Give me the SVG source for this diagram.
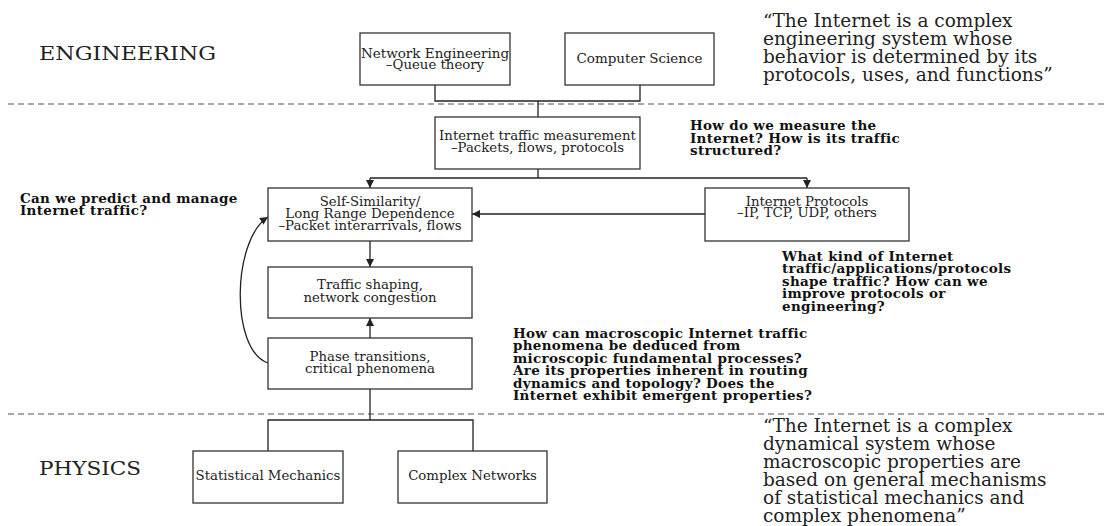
<svg xmlns="http://www.w3.org/2000/svg" width="1108" height="526" viewBox="0 0 1108 526">
<style>
.box{fill:#fff;stroke:#333;stroke-width:1.3}
.t{font-family:"DejaVu Serif","Liberation Serif",serif;font-size:13.3px;fill:#222;text-anchor:middle}
.big{font-family:"DejaVu Serif","Liberation Serif",serif;font-size:19px;fill:#222}
.q{font-family:"DejaVu Serif","Liberation Serif",serif;font-size:18.5px;fill:#222}
.b{font-family:"DejaVu Serif","Liberation Serif",serif;font-size:13.5px;letter-spacing:0.3px;font-weight:bold;fill:#111}
.dash{stroke:#555;stroke-width:1.1;stroke-dasharray:6,4;fill:none}
.ln{stroke:#222;stroke-width:1.3;fill:none}
</style>
<defs>
<marker id="ah" viewBox="0 0 10 10" refX="10" refY="5" markerWidth="8" markerHeight="8" markerUnits="userSpaceOnUse" orient="auto">
<path d="M0,0 L10,5 L0,10 z" fill="#222"/>
</marker>
</defs>
<rect width="1108" height="526" fill="#fff"/>

<line class="dash" x1="8" y1="104" x2="1108" y2="104"/>
<line class="dash" x1="8" y1="414" x2="1108" y2="414"/>

<text class="big" x="39" y="60" textLength="177" lengthAdjust="spacingAndGlyphs">ENGINEERING</text>
<text class="big" x="39" y="475" textLength="102" lengthAdjust="spacingAndGlyphs">PHYSICS</text>

<g id="quote-top">
<text class="q" x="763" y="27">“The Internet is a complex</text>
<text class="q" x="763" y="45">engineering system whose</text>
<text class="q" x="763" y="63">behavior is determined by its</text>
<text class="q" x="763" y="81">protocols, uses, and functions”</text>
</g>
<g id="quote-bottom">
<text class="q" x="763" y="432">“The Internet is a complex</text>
<text class="q" x="763" y="450">dynamical system whose</text>
<text class="q" x="763" y="468">macroscopic properties are</text>
<text class="q" x="763" y="486">based on general mechanisms</text>
<text class="q" x="763" y="504">of statistical mechanics and</text>
<text class="q" x="763" y="522">complex phenomena”</text>
</g>

<g id="q1">
<text class="b" x="690" y="130">How do we measure the</text>
<text class="b" x="690" y="143">Internet? How is its traffic</text>
<text class="b" x="690" y="155">structured?</text>
</g>
<g id="q2">
<text class="b" x="20" y="203">Can we predict and manage</text>
<text class="b" x="20" y="215">Internet traffic?</text>
</g>
<g id="q3">
<text class="b" x="782" y="261">What kind of Internet</text>
<text class="b" x="782" y="273">traffic/applications/protocols</text>
<text class="b" x="782" y="286">shape traffic? How can we</text>
<text class="b" x="782" y="298">improve protocols or</text>
<text class="b" x="782" y="311">engineering?</text>
</g>
<g id="q4">
<text class="b" x="513" y="338">How can macroscopic Internet traffic</text>
<text class="b" x="513" y="350">phenomena be deduced from</text>
<text class="b" x="513" y="363">microscopic fundamental processes?</text>
<text class="b" x="513" y="375">Are its properties inherent in routing</text>
<text class="b" x="513" y="388">dynamics and topology? Does the</text>
<text class="b" x="513" y="400">Internet exhibit emergent properties?</text>
</g>

<g id="connectors">
<path class="ln" d="M435,85 V101 H640 V85"/>
<path class="ln" d="M538,101 V117"/>
<path class="ln" d="M538,169 V178"/>
<path class="ln" d="M370,178 H807"/>
<path class="ln" d="M370,178 V188" marker-end="url(#ah)"/>
<path class="ln" d="M807,178 V188" marker-end="url(#ah)"/>
<path class="ln" d="M705,214 H472" marker-end="url(#ah)"/>
<path class="ln" d="M370,241 V267" marker-end="url(#ah)"/>
<path class="ln" d="M370,338 V318" marker-end="url(#ah)"/>
<path class="ln" d="M268,363 C230,350 232,240 268,217" marker-end="url(#ah)"/>
<path class="ln" d="M370,389 V420"/>
<path class="ln" d="M268,451 V420 H473 V451"/>
</g>

<g id="n-neteng">
<rect class="box" x="360" y="33" width="150" height="52"/>
<text class="t" x="435" y="58" style="font-size:13.5px">Network Engineering</text>
<text class="t" x="435" y="69">–Queue theory</text>
</g>
<g id="n-cs">
<rect class="box" x="565" y="33" width="149" height="52"/>
<text class="t" x="639.5" y="63" style="font-size:13.5px">Computer Science</text>
</g>
<g id="n-itm">
<rect class="box" x="435" y="117" width="205" height="52"/>
<text class="t" x="537.5" y="140">Internet traffic measurement</text>
<text class="t" x="537.5" y="152">–Packets, flows, protocols</text>
</g>
<g id="n-self">
<rect class="box" x="268" y="188" width="204" height="53"/>
<text class="t" x="370" y="206">Self-Similarity/</text>
<text class="t" x="370" y="218">Long Range Dependence</text>
<text class="t" x="370" y="230">–Packet interarrivals, flows</text>
</g>
<g id="n-proto">
<rect class="box" x="705" y="188" width="204" height="53"/>
<text class="t" x="807" y="206">Internet Protocols</text>
<text class="t" x="807" y="217">–IP, TCP, UDP, others</text>
</g>
<g id="n-shaping">
<rect class="box" x="268" y="267" width="204" height="51"/>
<text class="t" x="370" y="289">Traffic shaping,</text>
<text class="t" x="370" y="302">network congestion</text>
</g>
<g id="n-phase">
<rect class="box" x="268" y="338" width="204" height="51"/>
<text class="t" x="370" y="361">Phase transitions,</text>
<text class="t" x="370" y="373">critical phenomena</text>
</g>
<g id="n-stat">
<rect class="box" x="193" y="451" width="150" height="52"/>
<text class="t" x="268" y="480">Statistical Mechanics</text>
</g>
<g id="n-complex">
<rect class="box" x="398" y="451" width="149" height="52"/>
<text class="t" x="472.5" y="480">Complex Networks</text>
</g>
</svg>
